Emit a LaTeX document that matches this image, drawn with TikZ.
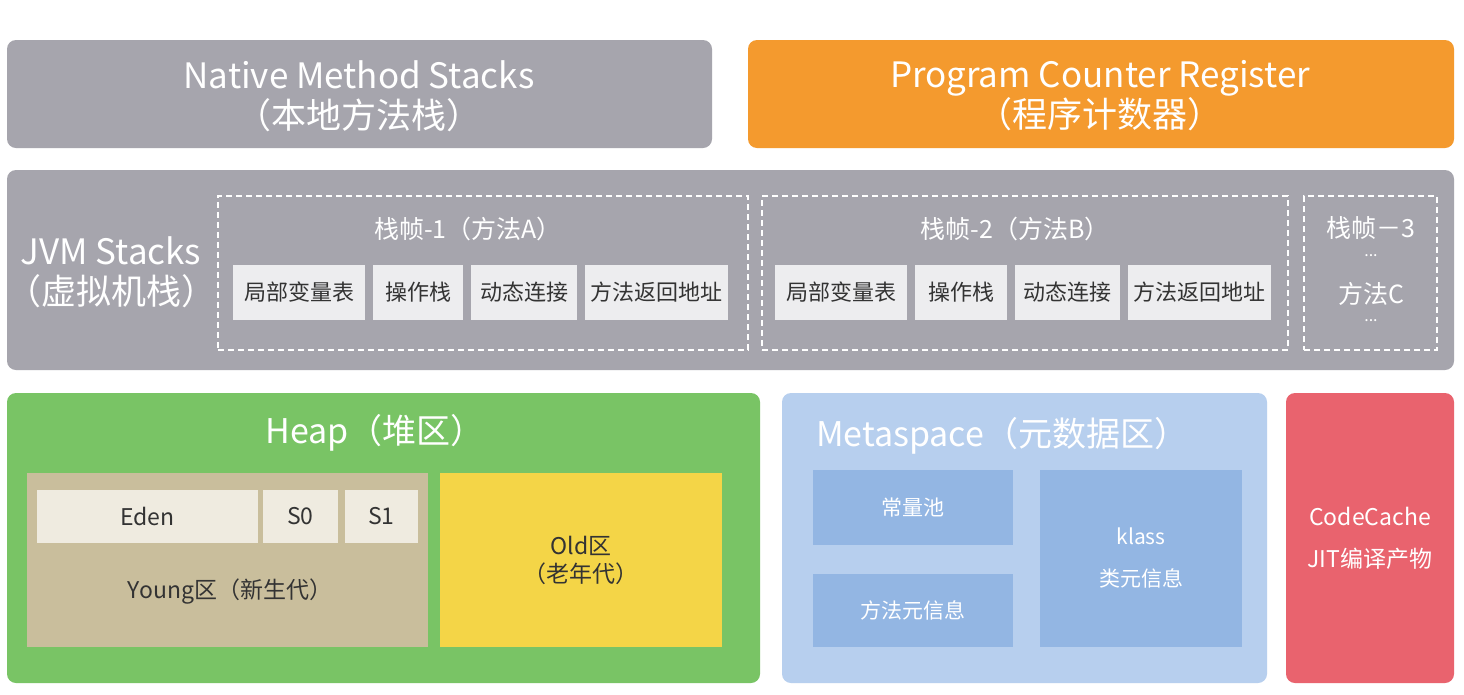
\documentclass[tikz,border=0pt]{standalone}
\usepackage{fontspec}
\setmainfont{Noto Sans CJK SC}
\begin{document}
\begin{tikzpicture}[x=1pt,y=-1pt,
  every node/.style={inner sep=0pt,outer sep=0pt,font=\fontsize{22}{26}\selectfont},
  panel/.style={anchor=north west,rounded corners=9pt,draw=none},
  cell/.style={anchor=north west,fill=cellgray,text=darktext,draw=none},
  frame/.style={anchor=north west,draw=white,dashed,dash pattern=on 6pt off 4pt,line width=1.6pt},
  big/.style={font=\fontsize{35}{40}\selectfont,text=white,align=center},
  mid/.style={font=\fontsize{25}{28}\selectfont,text=white,align=center}]
\definecolor{gray1}{HTML}{A6A5AD}
\definecolor{orange1}{HTML}{F49A2E}
\definecolor{cellgray}{HTML}{EDEDEF}
\definecolor{darktext}{HTML}{333333}
\definecolor{green1}{HTML}{79C465}
\definecolor{tan1}{HTML}{C9BE9C}
\definecolor{light1}{HTML}{EFEBE0}
\definecolor{yellow1}{HTML}{F4D547}
\definecolor{blue1}{HTML}{B7CFEE}
\definecolor{blue2}{HTML}{93B6E3}
\definecolor{red1}{HTML}{E9636E}
\useasboundingbox[fill=white] (0,0) rectangle (1464,694);
% top row
\node (nms) [panel,fill=gray1,minimum width=705pt,minimum height=108pt] at (7,40) {};
\node (nmst) [big] at (359,96) {Native Method Stacks\\（本地方法栈）};
\node (pcr) [panel,fill=orange1,minimum width=706pt,minimum height=108pt] at (748,40) {};
\node (pcrt) [big] at (1100,96) {Program Counter Register\\（程序计数器）};
% JVM stacks
\node (jvm) [panel,fill=gray1,minimum width=1447pt,minimum height=200pt] at (7,170) {};
\node (jvmt) [big,align=center] at (111,272) {JVM Stacks\\（虚拟机栈）};
% frame 1
\node (f1) [frame,minimum width=530pt,minimum height=154pt] at (218,196) {};
\node (f1t) [mid] at (468,229) {栈帧-1（方法A）};
\node (c11) [cell,minimum width=132pt,minimum height=55pt] at (233,265) {局部变量表};
\node (c12) [cell,minimum width=90pt,minimum height=55pt] at (373,265) {操作栈};
\node (c13) [cell,minimum width=106pt,minimum height=55pt] at (471,265) {动态连接};
\node (c14) [cell,minimum width=143pt,minimum height=55pt] at (585,265) {方法返回地址};
% frame 2
\node (f2) [frame,minimum width=526pt,minimum height=154pt] at (762,196) {};
\node (f2t) [mid] at (1015,229) {栈帧-2（方法B）};
\node (c21) [cell,minimum width=132pt,minimum height=55pt] at (775,265) {局部变量表};
\node (c22) [cell,minimum width=92pt,minimum height=55pt] at (915,265) {操作栈};
\node (c23) [cell,minimum width=105pt,minimum height=55pt] at (1015,265) {动态连接};
\node (c24) [cell,minimum width=143pt,minimum height=55pt] at (1128,265) {方法返回地址};
% frame 3
\node (f3) [frame,minimum width=133pt,minimum height=154pt] at (1304,196) {};
\node (f3a) [mid] at (1371,228) {栈帧－3};
\node (f3b) [mid,font=\fontsize{16}{18}\selectfont] at (1371,256) {...};
\node (f3c) [mid] at (1371,294) {方法C};
\node (f3d) [mid,font=\fontsize{16}{18}\selectfont] at (1371,321) {...};
% heap
\node (heap) [panel,fill=green1,minimum width=753pt,minimum height=290pt] at (7,393) {};
\node (heapt) [big,font=\fontsize{34}{38}\selectfont] at (375,433) {Heap（堆区）};
\node (young) [anchor=north west,fill=tan1,minimum width=401pt,minimum height=174pt] at (27,473) {};
\node (eden) [cell,fill=light1,minimum width=221pt,minimum height=53pt,font=\fontsize{23}{26}\selectfont] at (37,490) {Eden};
\node (s0) [cell,fill=light1,minimum width=75pt,minimum height=53pt,font=\fontsize{23}{26}\selectfont] at (263,490) {S0};
\node (s1) [cell,fill=light1,minimum width=73pt,minimum height=53pt,font=\fontsize{23}{26}\selectfont] at (345,490) {S1};
\node (youngt) [text=darktext,font=\fontsize{23}{26}\selectfont] at (230,592) {Young区（新生代）};
\node (old) [anchor=north west,fill=yellow1,minimum width=282pt,minimum height=174pt,text=darktext,align=center,font=\fontsize{23}{28}\selectfont] at (440,473) {Old区\\（老年代）};
% metaspace
\node (meta) [panel,fill=blue1,minimum width=485pt,minimum height=290pt] at (782,393) {};
\node (metat) [big,font=\fontsize{34}{38}\selectfont,anchor=west] at (816,436) {Metaspace（元数据区）};
\node (cp) [anchor=north west,fill=blue2,minimum width=200pt,minimum height=75pt,text=white,font=\fontsize{21}{24}\selectfont] at (813,470) {常量池};
\node (mm) [anchor=north west,fill=blue2,minimum width=200pt,minimum height=73pt,text=white,font=\fontsize{21}{24}\selectfont] at (813,574) {方法元信息};
\node (kl) [anchor=north west,fill=blue2,minimum width=202pt,minimum height=177pt,text=white,align=center,font=\fontsize{21}{42}\selectfont] at (1040,470) {klass\\类元信息};
% code cache
\node (cc) [panel,fill=red1,minimum width=168pt,minimum height=290pt,text=white,align=center,font=\fontsize{23}{42}\selectfont] at (1286,393) {CodeCache\\JIT编译产物};
\end{tikzpicture}
\end{document}
